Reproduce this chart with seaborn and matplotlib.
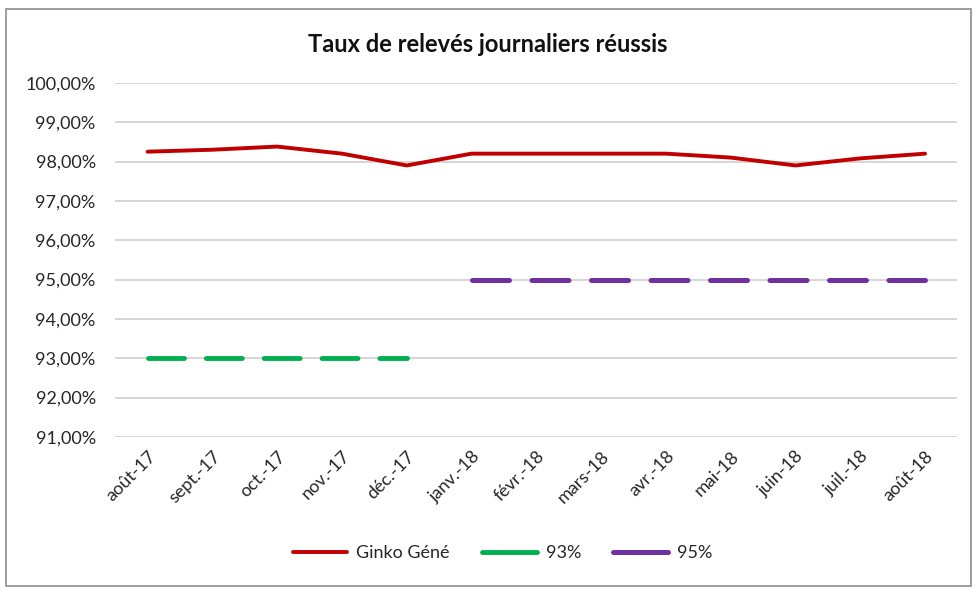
import matplotlib
matplotlib.use("Agg")
import matplotlib.pyplot as plt
import matplotlib.ticker as mticker
from matplotlib.patches import Rectangle
import numpy as np
import pandas as pd
import seaborn as sns

# Data
months = ["août-17", "sept.-17", "oct.-17", "nov.-17", "déc.-17", "janv.-18",
          "févr.-18", "mars-18", "avr.-18", "mai-18", "juin-18", "juil.-18", "août-18"]
ginko = [98.25, 98.3, 98.38, 98.2, 97.9, 98.2, 98.2, 98.2, 98.2, 98.1, 97.9, 98.08, 98.2]
seuil_93 = [93, 93, 93, 93, 93, None, None, None, None, None, None, None, None]
seuil_95 = [None, None, None, None, None, 95, 95, 95, 95, 95, 95, 95, 95]

df = pd.DataFrame({
    "pos": np.arange(len(months)),
    "Ginko Géné": pd.to_numeric(pd.Series(ginko), errors="coerce"),
    "93%": pd.to_numeric(pd.Series(seuil_93), errors="coerce"),
    "95%": pd.to_numeric(pd.Series(seuil_95), errors="coerce"),
})

sns.set_theme(style="white")
plt.rcParams["font.family"] = ["Lato", "DejaVu Sans"]

fig = plt.figure(figsize=(9.76, 5.96), dpi=100)
ax = fig.add_axes([0.118, 0.267, 0.863, 0.594])

# outer chart border
fig.patches.append(Rectangle((0.006, 0.017), 0.989, 0.968, transform=fig.transFigure,
                             fill=False, edgecolor="#8c8c8c", linewidth=1.2))

sns.lineplot(data=df, x="pos", y="Ginko Géné", ax=ax, color="#C00000",
             linewidth=2.8, label="Ginko Géné", solid_capstyle="round")
sns.lineplot(data=df, x="pos", y="93%", ax=ax, color="#00B050",
             linewidth=3.5, label="93%", dashes=False)
sns.lineplot(data=df, x="pos", y="95%", ax=ax, color="#7030A0",
             linewidth=3.6, label="95%", dashes=False)

for ln in ax.lines[1:]:
    ln.set_dashes((7.4, 4.5))
    ln.set_dash_capstyle("round")

ax.set_xlim(-0.5, len(months) - 0.5)
ax.set_ylim(91, 100)
ax.yaxis.set_major_locator(mticker.MultipleLocator(1))
ax.yaxis.set_major_formatter(mticker.FuncFormatter(lambda v, p: f"{v:.2f}%".replace(".", ",")))
ax.set_xticks(df["pos"])
ax.set_xticklabels(months, rotation=45, ha="right", rotation_mode="anchor")
ax.tick_params(axis="both", labelsize=13, colors="#262626", length=0)
ax.tick_params(axis="x", pad=8)
ax.tick_params(axis="y", pad=14)

ax.grid(axis="y", color="#d0d0d0", linewidth=1.2)
ax.grid(axis="x", visible=False)
for s in ax.spines.values():
    s.set_visible(False)
ax.set_xlabel("")
ax.set_ylabel("")

fig.text(0.5, 0.925, "Taux de relevés journaliers réussis", ha="center", va="center",
         fontsize=17, fontweight="bold", color="#111111")

leg = ax.legend(loc="center", bbox_to_anchor=(0.515, 0.072), bbox_transform=fig.transFigure,
                ncol=3, frameon=False, fontsize=13, handlelength=3.0, columnspacing=1.8,
                handletextpad=0.5)
for h in leg.legend_handles:
    h.set_linestyle("-")
    h.set_solid_capstyle("round")
for t in leg.get_texts():
    t.set_color("#262626")

fig.savefig("out.png", dpi=100, facecolor="white")
